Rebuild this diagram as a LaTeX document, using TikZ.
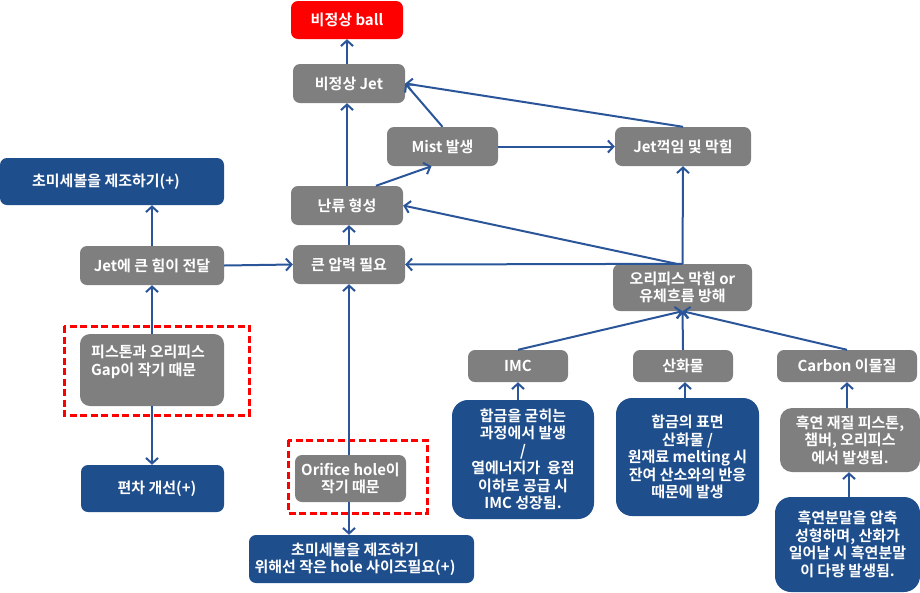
\documentclass[tikz,border=0pt]{standalone}
\usepackage{fontspec}
\setmainfont{Noto Sans CJK KR}[BoldFont={Noto Sans CJK KR Bold}]
\usetikzlibrary{arrows.meta}
\definecolor{boxgray}{HTML}{7F7F7F}
\definecolor{boxblue}{HTML}{1F4E8C}
\definecolor{lineblue}{HTML}{2A5699}
\definecolor{alertred}{HTML}{FF0000}
\tikzset{
  base/.style={rectangle, rounded corners=7pt, text=white, inner sep=0pt, align=center,
    font=\bfseries\fontsize{15}{17.5}\selectfont},
  gbox/.style={base, fill=boxgray},
  bbox/.style={base, fill=boxblue},
  rbox/.style={base, fill=alertred},
  dbox/.style={base, fill=boxblue, rounded corners=16pt},
  sz/.style 2 args={minimum width=#1pt, minimum height=#2pt},
  txt/.style={text=white, inner sep=0pt, font=\bfseries\fontsize{15}{17.5}\selectfont},
  arr/.style={draw=lineblue, line width=2pt, -{Straight Barb[length=5.5pt,width=12pt,line width=2pt]}},
  reddash/.style={draw=alertred, line width=3pt, dash pattern=on 7pt off 3.5pt}
}
\begin{document}
\begin{tikzpicture}[x=1pt,y=-1pt]
\useasboundingbox (0,0) rectangle (920,592);

% top chain
\node[rbox, sz={112}{38}] (ball) at (347,20) {비정상 ball};
\node[gbox, sz={112}{39}] (jet) at (349,83.5) {비정상 Jet};
\node[gbox, sz={111}{39}] (mist) at (442.5,146.5) {Mist 발생};
\node[gbox, sz={136}{39}] (bend) at (683,146.5) {Jet꺽임 및 막힘};
\node[gbox, sz={112}{39}] (turb) at (347,205.5) {난류 형성};
\node[gbox, sz={112}{39}] (press) at (349,264.5) {큰 압력 필요};
\node[gbox, sz={139}{47}] (clog) at (682.5,287.5) {오리피스 막힘 or\\유체흐름 방해};

% left column
\node[bbox, sz={224}{47}] (fine1) at (112,181.5) {};
\node[txt] (fine1t) at (106,181.5) {초미세볼을 제조하기(+)};
\node[gbox, sz={144}{39}] (force) at (152,265.5) {Jet에 큰 힘이 전달};
\node[gbox, sz={144}{72}, rounded corners=10pt] (piston) at (152,370) {};
\node[txt, anchor=west, align=left] (pistont) at (91,362) {피스톤과 오리피스\\Gap이 작기 때문};
\node[bbox, sz={143}{47}] (dev) at (152.5,488.5) {};
\node[txt] (devt) at (157,488.5) {편차 개선(+)};
\draw[reddash] (64,326) rectangle (249,415);

% middle bottom
\node[gbox, sz={111}{47}] (orifice) at (350.5,478.5) {Orifice hole이\\작기 때문};
\draw[reddash] (288,440) rectangle (427,513);
\node[bbox, sz={225}{48}] (fine2) at (361.5,559) {};
\node[txt, align=center] (fine2t) at (355,559) {초미세볼을 제조하기\\위해선 작은 hole 사이즈필요(+)};

% right bottom
\node[gbox, sz={100}{32}] (imc) at (518,366) {IMC};
\node[gbox, sz={100}{32}] (oxide) at (683,366) {산화물};
\node[gbox, sz={140}{32}] (carbon) at (847,366) {Carbon 이물질};
\node[dbox, sz={142}{119}] (imcd) at (523,459.5) {합금을 굳히는\\과정에서 발생\\/\\열에너지가\ \ 융점\\이하로 공급 시\\IMC 성장됨.};
\node[dbox, sz={143}{118}] (oxd) at (687.5,457) {합금의 표면\\산화물 /\\원재료 melting 시\\잔여 산소와의 반응\\때문에 발생};
\node[gbox, sz={140}{64}, rounded corners=12pt] (graph) at (850,440) {흑연 재질 피스톤,\\챔버, 오리피스\\에서 발생됨.};
\node[dbox, sz={145}{95}] (powder) at (847.5,544.5) {흑연분말을 압축\\성형하며, 산화가\\일어날 시 흑연분말\\이 다량 발생됨.};

% connectors
\draw[arr] (jet.north -| ball.south) -- (ball.south);
\draw[arr] (turb.north) -- (turb.north |- jet.south);
\draw[arr] (press.north) -- (press.north |- turb.south);
\draw[arr] (press.south |- orifice.north) -- (press.south);
\draw[arr] (press.south |- orifice.south) -- (press.south |- fine2.north);
\draw[arr] ([xshift=29pt]turb.north) -- ([xshift=-11pt]mist.south);
\draw[arr] (mist.north) -- (jet.east);
\draw[arr] (bend.north) -- (jet.east);
\draw[arr] (mist.east) -- (bend.west);
\draw[arr] (clog.north) -- (bend.south);
\draw[arr] ([xshift=-6pt]clog.north) -- (turb.east);
\draw[arr] (clog.north) -- (press.east);
\draw[arr] (force.east) -- (press.west);
\draw[arr] (force.north) -- (force.north |- fine1.south);
\draw[arr] (piston.north) -- (force.south);
\draw[arr] (piston.south) -- (piston.south |- dev.north);
\draw[arr] (imc.north) -- (clog.south);
\draw[arr] (oxide.north) -- (clog.south);
\draw[arr] (carbon.north) -- (clog.south);
\draw[arr] (imc.south |- imcd.north) -- (imc.south);
\draw[arr] ([xshift=2pt]oxide.south |- oxd.north) -- ([xshift=2pt]oxide.south);
\draw[arr] (carbon.south |- graph.north) -- (carbon.south);
\draw[arr] ([xshift=-1pt]graph.south |- powder.north) -- ([xshift=-1pt]graph.south);
\end{tikzpicture}
\end{document}
